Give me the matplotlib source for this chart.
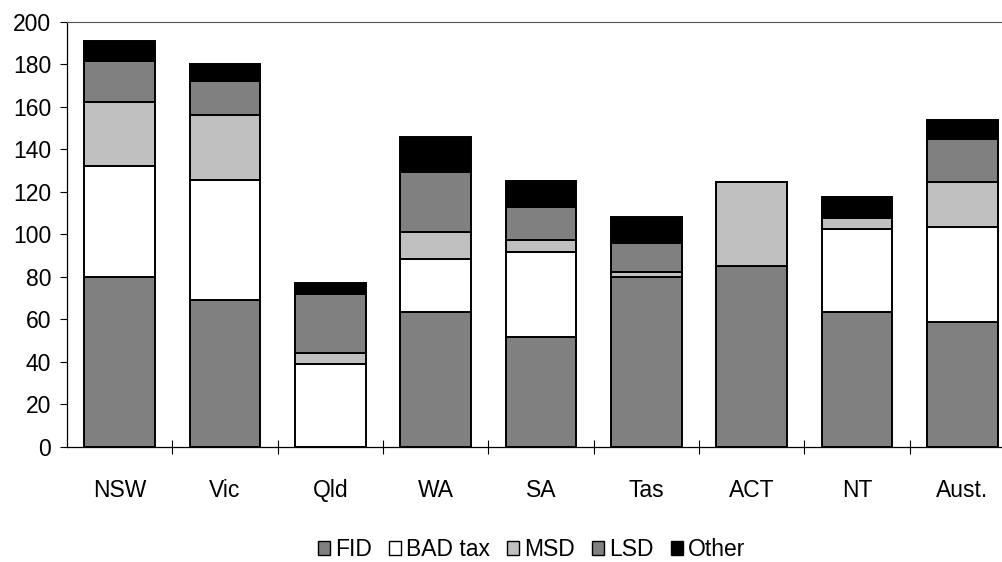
import matplotlib
matplotlib.use("Agg")
import matplotlib.pyplot as plt
import numpy as np

plt.rcParams['font.family'] = ['Liberation Sans', 'DejaVu Sans']

states = ['NSW', 'Vic', 'Qld', 'WA', 'SA', 'Tas', 'ACT', 'NT', 'Aust.']
fid = [80, 69, 0, 63.5, 51.5, 80, 85, 63.5, 58.5]
bad_tax = [52, 56.5, 39, 25, 40, 0, 0, 39, 45]
msd = [30.5, 30.5, 5, 12.5, 6, 2.5, 39.5, 5, 21]
lsd = [19, 16, 28, 28.5, 15.5, 13.5, 0, 0, 20.5]
other = [9.5, 8, 5, 16.5, 12, 12, 0, 10, 9]

series = [('FID', fid, '#808080'),
          ('BAD tax', bad_tax, '#ffffff'),
          ('MSD', msd, '#c0c0c0'),
          ('LSD', lsd, '#808080'),
          ('Other', other, '#000000')]

fig = plt.figure(figsize=(10.02, 5.62), dpi=100)
ax = fig.add_axes([67/1002, 1-446.7/562, 948/1002, (446.7-22)/562])

x = np.arange(len(states))
bottom = np.zeros(len(states))
for name, vals, col in series:
    ax.bar(x, vals, 0.67, bottom=bottom, color=col, edgecolor='black',
           linewidth=1.4, label=name)
    bottom += np.array(vals)

ax.set_xlim(-0.5, 8.5)
ax.set_ylim(0, 200)
ax.set_yticks(range(0, 201, 20))
ax.tick_params(axis='y', direction='out', length=5, width=0.8, pad=6.5,
               labelsize=16.5)
ax.set_xticks(x)
ax.set_xticklabels(states)
ax.set_xticks(np.arange(0.5, 8.5, 1), minor=True)
ax.tick_params(axis='x', which='major', length=0, pad=23.5, labelsize=16.5)
ax.tick_params(axis='x', which='minor', direction='inout', length=10, width=0.8)

ax.spines['right'].set_visible(False)
ax.spines['top'].set_color('#555555')
ax.spines['left'].set_linewidth(0.9)
ax.spines['bottom'].set_linewidth(0.9)

leg = ax.legend(loc='center', bbox_to_anchor=(531.7/1002, 1-549.5/562),
                bbox_transform=fig.transFigure, ncol=5, frameon=False,
                fontsize=16.5, handlelength=0.52, handleheight=0.52,
                handletextpad=0.22, columnspacing=0.75, borderpad=0)
for h in leg.legend_handles:
    h.set_linewidth(1.0)

fig.savefig('out.png', dpi=100)
